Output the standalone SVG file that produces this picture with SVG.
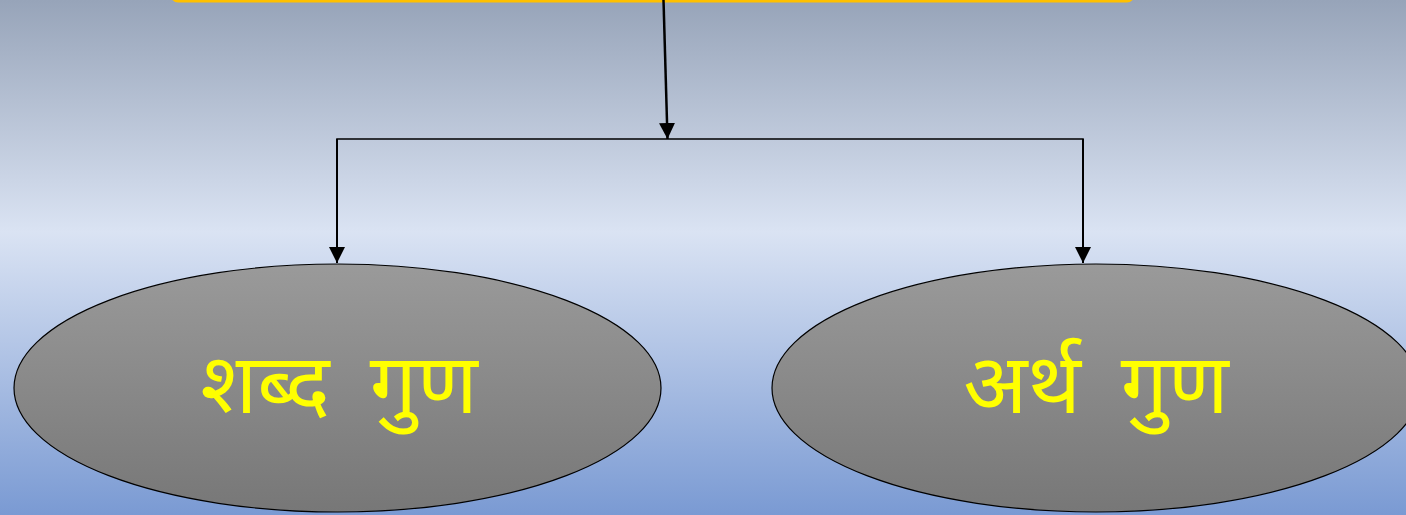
<svg xmlns="http://www.w3.org/2000/svg" width="1406" height="515" viewBox="0 0 1406 515">
  <defs>
    <linearGradient id="bg" x1="0" y1="0" x2="0" y2="1">
      <stop offset="0" stop-color="#97A4B9"/>
      <stop offset="0.45" stop-color="#DAE3F3"/>
      <stop offset="1" stop-color="#7A9AD3"/>
    </linearGradient>
    <linearGradient id="oval" x1="0" y1="0" x2="0" y2="1">
      <stop offset="0" stop-color="#9A9A9A"/>
      <stop offset="1" stop-color="#777777"/>
    </linearGradient>
    <marker id="arrow" viewBox="0 0 16 16" refX="16" refY="8" markerWidth="16" markerHeight="16" markerUnits="userSpaceOnUse" orient="auto">
      <path d="M0,0 L16,8 L0,16 Z" fill="#000"/>
    </marker>
    <style>
      .oval { fill: url(#oval); stroke: #000; stroke-width: 1.2; }
      .label { font-family: "Noto Sans Devanagari", "Lohit Devanagari", "Mangal", "Noto Sans", sans-serif; font-size: 84px; word-spacing: 18px; fill: #FFFF00; text-anchor: middle; }
      .conn { stroke: #000; fill: none; }
    </style>
  </defs>

  <rect x="0" y="0" width="1406" height="515" fill="url(#bg)"/>

  <!-- header box, only its lower border is in view -->
  <g id="header">
    <rect x="172" y="-60" width="961" height="61" rx="6" fill="none" stroke="#FFC000" stroke-width="3"/>
  </g>

  <g id="connectors">
    <line class="conn" x1="663.5" y1="0" x2="667.5" y2="139" stroke-width="2.5" marker-end="url(#arrow)"/>
    <polyline class="conn" points="337,263 337,139 1083,139 1083,263" stroke-width="1.6"/>
    <line class="conn" x1="337" y1="139" x2="337" y2="263" stroke-width="2" marker-end="url(#arrow)"/>
    <line class="conn" x1="1083" y1="139" x2="1083" y2="263" stroke-width="2" marker-end="url(#arrow)"/>
  </g>

  <g id="shabd-gun">
    <ellipse class="oval" cx="337.5" cy="388" rx="323.5" ry="124"/>
    <text class="label" x="339" y="413">शब्द गुण</text>
  </g>

  <g id="arth-gun">
    <ellipse class="oval" cx="1096" cy="388" rx="324" ry="124"/>
    <text class="label" x="1096" y="413">अर्थ गुण</text>
  </g>
</svg>
